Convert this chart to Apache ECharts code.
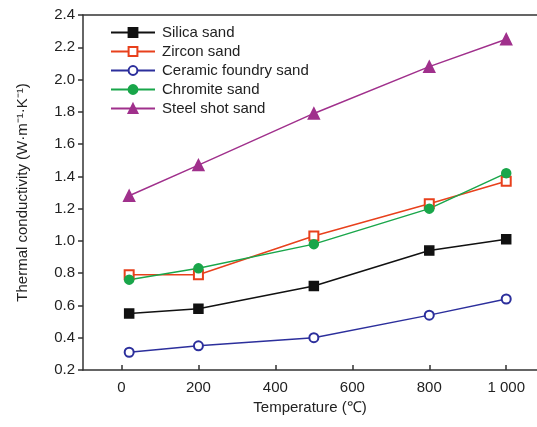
<!DOCTYPE html>
<html><head><meta charset="utf-8">
<script src="https://cdn.jsdelivr.net/npm/echarts@6/dist/echarts.min.js"></script>
<style>html,body{margin:0;padding:0;background:#fff}#c{width:537px;height:427px}</style>
</head><body><div id="c"></div>
<script>
const temps = [20, 200, 500, 800, 1000];
const xTicks = [0, 200, 400, 600, 800, 1000];
const silica = [0.55, 0.58, 0.72, 0.94, 1.01];
const zircon = [0.79, 0.79, 1.03, 1.23, 1.37];
const ceramic = [0.31, 0.35, 0.40, 0.54, 0.64];
const chromite = [0.76, 0.83, 0.98, 1.20, 1.42];
const steel = [1.28, 1.47, 1.79, 2.08, 2.25];
const names = ['Silica sand', 'Zircon sand', 'Ceramic foundry sand', 'Chromite sand', 'Steel shot sand'];

const font = 'Liberation Sans, Arial, sans-serif';
const pair = arr => temps.map((t, i) => [t, arr[i]]);
function mk(name, data, color, symbol, size) {
  return {
    name, type: 'line', data: pair(data), symbol, symbolSize: size,
    lineStyle: { color, width: 1.5 },
    itemStyle: { color, borderColor: color, borderWidth: 1.5 },
    emphasis: { disabled: true }, animation: false
  };
}
const chart = echarts.init(document.getElementById('c'));
chart.setOption({
  animation: false,
  grid: { left: 83, right: 0, top: 15, bottom: 57 },
  legend: {
    left: 105, top: 20, orient: 'vertical', itemGap: 4, itemWidth: 44, itemHeight: 11,
    textStyle: { fontFamily: font, fontSize: 15, color: '#222', padding: [0, 0, 0, 2] },
    data: names
  },
  xAxis: [{
    type: 'value', min: -100, max: 1080,
    name: 'Temperature (℃)', nameLocation: 'middle', nameGap: 30,
    nameTextStyle: { fontFamily: font, fontSize: 15, color: '#222' },
    axisLine: { show: true, onZero: false, lineStyle: { color: '#333', width: 1.5 } },
    axisTick: { show: true, inside: true, length: 5, customValues: xTicks, lineStyle: { color: '#333', width: 1.5 } },
    axisLabel: { customValues: xTicks, fontFamily: font, fontSize: 15, color: '#222', margin: 10,
      formatter: v => v === 1000 ? '1 000' : String(v) },
    splitLine: { show: false }
  }, {
    type: 'value', position: 'top', min: -100, max: 1080,
    axisLine: { show: true, onZero: false, lineStyle: { color: '#333', width: 1.5 } },
    axisTick: { show: false }, axisLabel: { show: false }, splitLine: { show: false }
  }],
  yAxis: {
    type: 'value', min: 0.2, max: 2.4, interval: 0.2,
    name: 'Thermal conductivity (W·m⁻¹·K⁻¹)', nameLocation: 'middle', nameGap: 53,
    nameTextStyle: { fontFamily: font, fontSize: 15, color: '#222' },
    axisLine: { show: true, onZero: false, lineStyle: { color: '#333', width: 1.5 } },
    axisTick: { show: true, length: 5, lineStyle: { color: '#333', width: 1.5 } },
    axisLabel: { fontFamily: font, fontSize: 15, color: '#222', margin: 8,
      formatter: v => v.toFixed(1) },
    splitLine: { show: false }
  },
  series: [
    mk(names[0], silica, '#111111', 'rect', 9),
    mk(names[1], zircon, '#e8401c', 'emptyRect', 9),
    mk(names[2], ceramic, '#2c2f9c', 'emptyCircle', 9),
    mk(names[3], chromite, '#19a64a', 'circle', 9),
    mk(names[4], steel, '#a0308c', 'triangle', 11)
  ]
});
</script></body></html>
